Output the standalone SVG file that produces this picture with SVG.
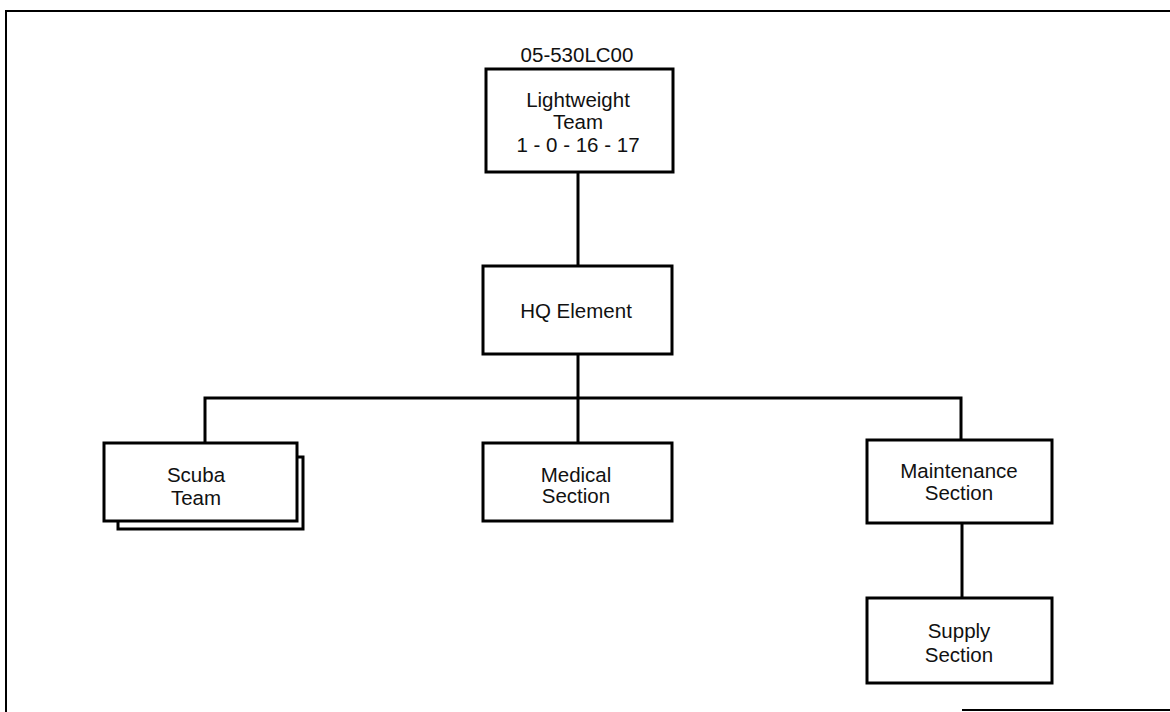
<svg xmlns="http://www.w3.org/2000/svg" width="1170" height="712" viewBox="0 0 1170 712">
  <style>
    .box { fill: #ffffff; stroke: #000000; stroke-width: 3; }
    .line { fill: none; stroke: #000000; stroke-width: 3; }
    .frame { fill: none; stroke: #000000; stroke-width: 2; }
    text { font-family: "Liberation Sans", Arial, sans-serif; font-size: 20.5px; fill: #111111; text-anchor: middle; }
  </style>
  <rect x="0" y="0" width="1170" height="712" fill="#ffffff"/>
  <g id="frame">
    <path class="frame" d="M 6 712 L 6 11 L 1170 11"/>
    <path class="frame" d="M 962 710 L 1170 710"/>
  </g>
  <g id="connectors">
    <path class="line" d="M 578 172 L 578 266"/>
    <path class="line" d="M 578 354 L 578 443"/>
    <path class="line" d="M 205 443 L 205 398 L 961 398 L 961 440"/>
    <path class="line" d="M 962 523 L 962 598"/>
  </g>
  <g id="lightweight-team">
    <text x="577" y="62">05-530LC00</text>
    <rect class="box" x="486" y="69" width="187" height="103"/>
    <text x="578" y="107">Lightweight</text>
    <text x="578" y="129">Team</text>
    <text x="578" y="152">1 - 0 - 16 - 17</text>
  </g>
  <g id="hq-element">
    <rect class="box" x="483" y="266" width="189" height="88"/>
    <text x="576" y="318">HQ Element</text>
  </g>
  <g id="scuba-team">
    <path class="box" d="M 118 457 L 303 457 L 303 529 L 118 529 Z"/>
    <rect class="box" x="104" y="443" width="193" height="78"/>
    <text x="196" y="482">Scuba</text>
    <text x="196" y="505">Team</text>
  </g>
  <g id="medical-section">
    <rect class="box" x="483" y="443" width="189" height="78"/>
    <text x="576" y="482">Medical</text>
    <text x="576" y="503">Section</text>
  </g>
  <g id="maintenance-section">
    <rect class="box" x="867" y="440" width="185" height="83"/>
    <text x="959" y="478">Maintenance</text>
    <text x="959" y="500">Section</text>
  </g>
  <g id="supply-section">
    <rect class="box" x="867" y="598" width="185" height="85"/>
    <text x="959" y="638">Supply</text>
    <text x="959" y="662">Section</text>
  </g>
</svg>
